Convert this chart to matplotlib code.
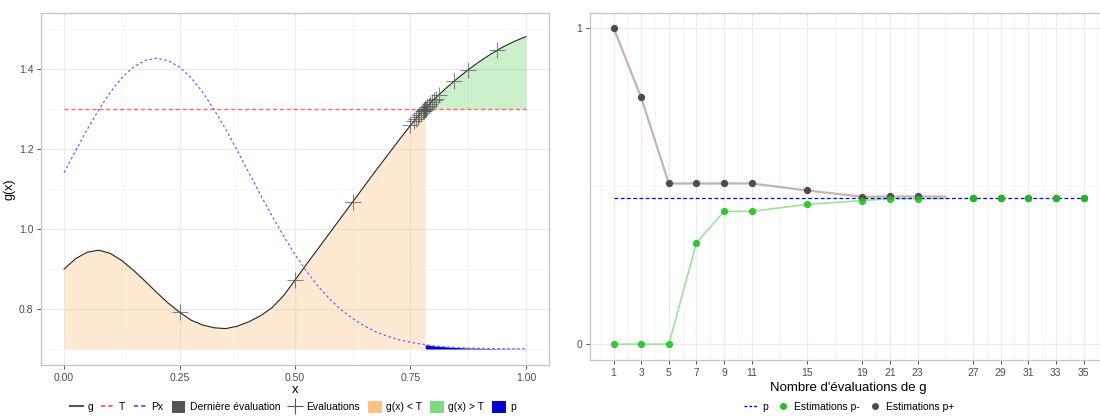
import matplotlib
matplotlib.use("Agg")
import matplotlib.pyplot as plt
from matplotlib.lines import Line2D
from matplotlib.patches import Patch
import numpy as np

plt.rcParams['font.family'] = ['Liberation Sans', 'DejaVu Sans']

# ---- left panel data ----
x = [0.000, 0.025, 0.050, 0.075, 0.100, 0.125, 0.150, 0.175, 0.200, 0.225,
     0.250, 0.275, 0.300, 0.325, 0.350, 0.375, 0.400, 0.425, 0.450, 0.475,
     0.500, 0.525, 0.550, 0.575, 0.600, 0.625, 0.650, 0.675, 0.700, 0.725,
     0.750, 0.775, 0.782, 0.800, 0.825, 0.850, 0.875, 0.900, 0.925, 0.950,
     0.975, 1.000]
g = [0.900, 0.926, 0.942, 0.947, 0.939, 0.921, 0.897, 0.870, 0.842, 0.815,
     0.792, 0.772, 0.760, 0.753, 0.751, 0.757, 0.768, 0.783, 0.803, 0.833,
     0.872, 0.912, 0.951, 0.990, 1.029, 1.068, 1.107, 1.146, 1.184, 1.222,
     1.259, 1.293, 1.300, 1.323, 1.350, 1.375, 1.398, 1.419, 1.438, 1.455,
     1.469, 1.481]
px = [1.141, 1.196, 1.249, 1.298, 1.342, 1.378, 1.405, 1.421, 1.427, 1.421,
      1.405, 1.378, 1.342, 1.298, 1.249, 1.196, 1.141, 1.086, 1.033, 0.983,
      0.936, 0.894, 0.857, 0.825, 0.798, 0.776, 0.758, 0.743, 0.732, 0.723,
      0.717, 0.712, 0.711, 0.708, 0.7055, 0.7037, 0.7024, 0.7016, 0.7010, 0.7006,
      0.7004, 0.7002]
T = 1.3
base = 0.7

eval_x = [0.25, 0.5, 0.625, 0.75, 0.875, 0.9375, 0.84375, 0.8125, 0.78125,
          0.796875, 0.765625, 0.7578, 0.7617, 0.7695, 0.7734, 0.7773, 0.7793,
          0.7803, 0.7813, 0.7832, 0.7852, 0.7891, 0.7930, 0.8008, 0.8047]
eval_g = [0.792, 0.872, 1.068, 1.259, 1.398, 1.447, 1.369, 1.336, 1.299,
          1.317, 1.280, 1.269, 1.274, 1.284, 1.289, 1.294, 1.296,
          1.298, 1.299, 1.301, 1.304, 1.308, 1.313, 1.322, 1.326]
last_x, last_g = 0.7813, 1.299

# ---- right panel data ----
n_eval = [1, 3, 5, 7, 9, 11, 15, 19, 21, 23, 27, 29, 31, 33, 35]
p_plus = [1.0, 0.78, 0.508, 0.508, 0.508, 0.508, 0.486, 0.466, 0.467, 0.467,
          0.463, 0.463, 0.463, 0.463, 0.463]
p_minus = [0.0, 0.0, 0.0, 0.321, 0.42, 0.42, 0.442, 0.454, 0.46, 0.46,
           0.463, 0.463, 0.463, 0.463, 0.463]
line_n = [1, 3, 5, 7, 9, 11, 15, 19, 21, 23, 25]
line_plus = [1.0, 0.78, 0.508, 0.508, 0.508, 0.508, 0.486, 0.466, 0.467, 0.467, 0.467]
line_minus = [0.0, 0.0, 0.0, 0.321, 0.42, 0.42, 0.442, 0.454, 0.46, 0.46, 0.461]
p_true = 0.463
xticks_right = [1, 3, 5, 7, 9, 11, 15, 19, 21, 23, 27, 29, 31, 33, 35]

grid_major = '#ebebeb'
grid_minor = '#f5f5f5'
border = '#c4c4c4'
tick_col = '#4d4d4d'


def style(ax):
    ax.set_axisbelow(True)
    ax.grid(True, which='major', color=grid_major, lw=0.9)
    ax.grid(True, which='minor', color=grid_minor, lw=0.6)
    for s in ax.spines.values():
        s.set_color(border)
        s.set_linewidth(0.9)
    ax.tick_params(which='major', colors='#555555', labelcolor=tick_col,
                   labelsize=7.5, length=3, width=0.7, pad=2.5)
    ax.tick_params(which='minor', length=0)


fig = plt.figure(figsize=(11, 4.17), dpi=100)

# ---------------- left ----------------
ax1 = fig.add_axes([0.0373, 0.1247, 0.4618, 0.8441])
xa = np.array(x)
ga = np.array(g)
pa = np.array(px)
ax1.fill_between(xa, base, ga, where=ga <= T + 1e-9, color='#ffc080', alpha=0.35, lw=0)
ax1.fill_between(xa, T, ga, where=ga >= T - 1e-9, color='#80d880', alpha=0.4, lw=0)
ax1.fill_between(xa, base, pa, where=ga >= T - 1e-9, color='#0000cc', lw=0)
ax1.plot(x, [T] * len(x), color='#ff6666', ls=(0, (3, 2)), lw=1.0)
ax1.plot(x, px, color='#6666ff', ls=(0, (2, 2)), lw=0.9)
ax1.plot(x, g, color='#222222', lw=0.8)
ax1.scatter(eval_x, eval_g, marker='+', s=120, color='#555555', alpha=0.7, lw=0.8, zorder=5)
ax1.scatter([last_x], [last_g], marker='s', s=12, color='#555555', zorder=6)
ax1.set_xlim(-0.05, 1.05)
ax1.set_ylim(0.66, 1.54)
ax1.set_xticks([0, 0.25, 0.5, 0.75, 1.0])
ax1.set_xticklabels(['0.00', '0.25', '0.50', '0.75', '1.00'])
ax1.set_xticks([0.125, 0.375, 0.625, 0.875], minor=True)
ax1.set_yticks([0.8, 1.0, 1.2, 1.4])
ax1.set_yticks([0.7, 0.9, 1.1, 1.3, 1.5], minor=True)
style(ax1)
ax1.set_xlabel('x', fontsize=9.5, labelpad=1)
ax1.set_ylabel('g(x)', fontsize=9, labelpad=2)

h1 = [Line2D([], [], color='#555555', lw=1.5),
      Line2D([], [], color='#ff6666', ls=(0, (2, 1.5)), lw=1.5),
      Line2D([], [], color='#6666ff', ls=(0, (2, 1.5)), lw=1.5),
      Patch(facecolor='#555555', edgecolor='none'),
      Line2D([], [], color='#555555', marker='+', ms=12, ls='none', mew=0.8),
      Patch(facecolor='#ffc080', edgecolor='none'),
      Patch(facecolor='#80d880', edgecolor='none'),
      Patch(facecolor='#0000cc', edgecolor='none')]
l1 = ['g', 'T', 'Px', 'Dernière évaluation', 'Evaluations', 'g(x) < T', 'g(x) > T', 'p']
fig.legend(h1, l1, loc='center', bbox_to_anchor=(0.266, 0.024), ncol=8,
           frameon=False, fontsize=7.5, handlelength=1.3, handleheight=1.3,
           handletextpad=0.4, columnspacing=0.8)

# ---------------- right ----------------
ax2 = fig.add_axes([0.5364, 0.1367, 0.47, 0.8321])
ax2.plot(line_n, line_plus, color='#bc9e9e', lw=1.6, alpha=0.8)
ax2.plot(line_n, line_minus, color='#9be39b', lw=1.2)
ax2.plot([1, 35], [p_true, p_true], color='#0000ff', ls=(0, (3, 2)), lw=0.9)
ax2.scatter(n_eval, p_plus, s=18, color='#4d4d4d', zorder=5)
ax2.scatter(n_eval, p_minus, s=18, color='#22c022', alpha=0.85, zorder=6)
ax2.set_xlim(-0.7, 36.7)
ax2.set_ylim(-0.05, 1.047)
ax2.set_xticks(xticks_right)
ax2.set_xticks([0, 2, 4, 6, 8, 10, 13, 17, 20, 22, 25, 28, 30, 32, 34, 36], minor=True)
ax2.set_yticks([0, 1])
ax2.set_yticks([0.5], minor=True)
style(ax2)
ax2.set_xlabel("Nombre d'évaluations de g", fontsize=9.5, labelpad=3)

h2 = [Line2D([], [], color='#0000ff', ls=(0, (2, 1.5)), lw=1.0),
      Line2D([], [], color='#22c022', marker='o', ms=4, ls='none'),
      Line2D([], [], color='#4d4d4d', marker='o', ms=4, ls='none')]
l2 = ['p', 'Estimations p-', 'Estimations p+']
fig.legend(h2, l2, loc='center', bbox_to_anchor=(0.772, 0.024), ncol=3,
           frameon=False, fontsize=7.5, handlelength=1.3, handletextpad=0.4,
           columnspacing=0.8)

fig.savefig('out.png', dpi=100)
